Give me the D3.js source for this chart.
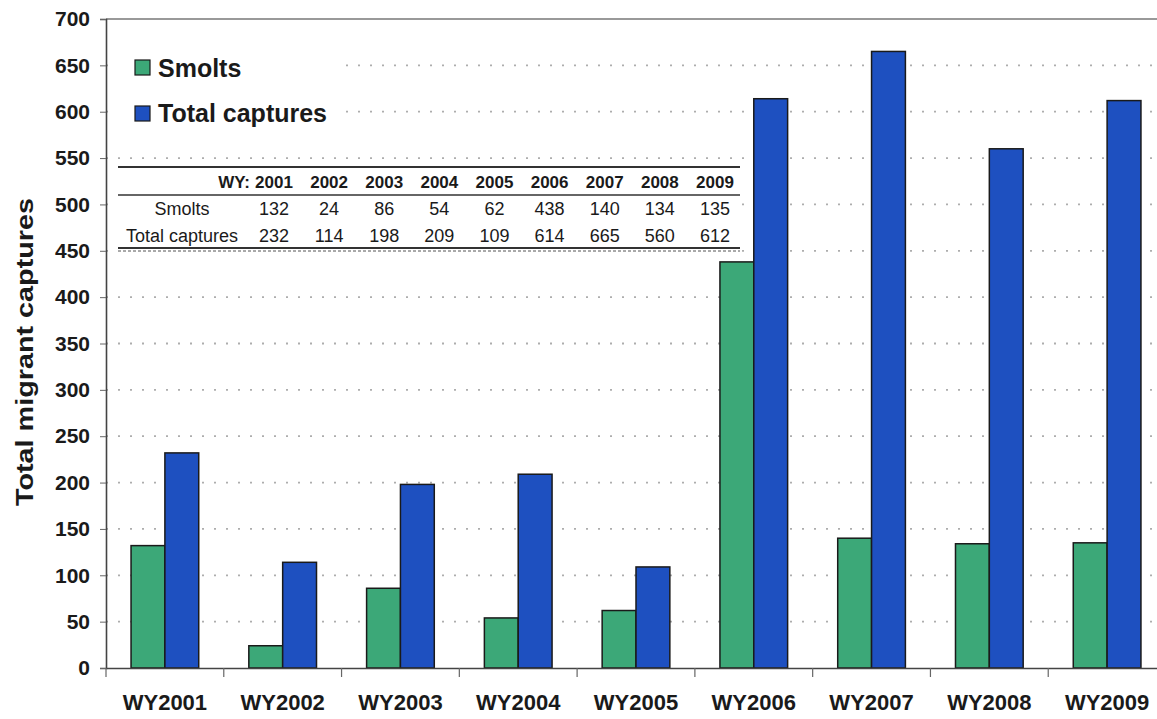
<!DOCTYPE html>
<html>
<head>
<meta charset="utf-8">
<script src="https://cdn.jsdelivr.net/npm/d3@7"></script>
<style>
  body { margin: 0; background: #fff; }
  svg { display: block; }
</style>
</head>
<body>
<div id="chart"></div>
<script>
"use strict";

var years = ["2001", "2002", "2003", "2004", "2005", "2006", "2007", "2008", "2009"];
var categories = ["WY2001", "WY2002", "WY2003", "WY2004", "WY2005", "WY2006", "WY2007", "WY2008", "WY2009"];
var smolts = [132, 24, 86, 54, 62, 438, 140, 134, 135];
var totalCaptures = [232, 114, 198, 209, 109, 614, 665, 560, 612];
var seriesNames = ["Smolts", "Total captures"];
var yTicks = [0, 50, 100, 150, 200, 250, 300, 350, 400, 450, 500, 550, 600, 650, 700];

var width = 1157;
var height = 719;
var green = "#3ca878";
var blue = "#1e50c0";
var font = "Liberation Sans, Arial, sans-serif";

var svg = d3.select("#chart").append("svg")
  .attr("width", width)
  .attr("height", height);

var y = d3.scaleLinear().domain([0, 700]).range([668, 19]);
var x = d3.scaleBand().domain(categories).range([106, 1166]).paddingInner(0).paddingOuter(0);
var inner = d3.scaleBand().domain(seriesNames).range([0, x.bandwidth()]).paddingInner(0).paddingOuter(0.74);

// gridlines
svg.append("g").selectAll("line")
  .data(yTicks.filter(function(d){ return d > 0 && d < 700; }))
  .enter().append("line")
    .attr("x1", 106).attr("x2", width)
    .attr("y1", function(d){ return y(d); })
    .attr("y2", function(d){ return y(d); })
    .attr("stroke", "#adadad")
    .attr("stroke-width", 1.8)
    .attr("stroke-dasharray", "2,10");

// top border
svg.append("line")
  .attr("x1", 106).attr("x2", width)
  .attr("y1", y(700)).attr("y2", y(700))
  .attr("stroke", "#777").attr("stroke-width", 1.5);

// bars
var groups = svg.append("g").selectAll("g")
  .data(categories)
  .enter().append("g")
    .attr("transform", function(d){ return "translate(" + x(d) + ",0)"; });

groups.selectAll("rect")
  .data(function(d, i){ return [
    {name: seriesNames[0], value: smolts[i], color: green},
    {name: seriesNames[1], value: totalCaptures[i], color: blue}
  ]; })
  .enter().append("rect")
    .attr("x", function(d){ return inner(d.name); })
    .attr("width", inner.bandwidth())
    .attr("y", function(d){ return y(d.value); })
    .attr("height", function(d){ return y(0) - y(d.value); })
    .attr("fill", function(d){ return d.color; })
    .attr("stroke", "#1a1a1a")
    .attr("stroke-width", 1.5);

// y axis
var yAxis = svg.append("g")
  .attr("transform", "translate(106,0)")
  .call(d3.axisLeft(y).tickValues(yTicks).tickSize(6).tickPadding(10));
yAxis.select(".domain").attr("stroke", "#444").attr("stroke-width", 1.6);
yAxis.selectAll(".tick line").attr("stroke", "#666");
yAxis.selectAll("text")
  .attr("font-family", font)
  .attr("font-size", "21px")
  .attr("font-weight", "bold")
  .attr("fill", "#1a1a1a");

// x axis
var xAxis = svg.append("g")
  .attr("transform", "translate(0,668)")
  .call(d3.axisBottom(x).tickSize(0).tickPadding(26));
xAxis.select(".domain").attr("stroke", "#444").attr("stroke-width", 1.6);
xAxis.selectAll("text")
  .attr("font-family", font)
  .attr("font-size", "22px")
  .attr("font-weight", "bold")
  .attr("fill", "#1a1a1a");
svg.append("g").selectAll("line")
  .data(categories)
  .enter().append("line")
    .attr("x1", function(d){ return x(d); })
    .attr("x2", function(d){ return x(d); })
    .attr("y1", 668).attr("y2", 677)
    .attr("stroke", "#666").attr("stroke-width", 1.2);

// y title
svg.append("text")
  .attr("transform", "translate(33,352) rotate(-90)")
  .attr("text-anchor", "middle")
  .attr("font-family", font)
  .attr("font-size", "24px")
  .attr("font-weight", "bold")
  .attr("fill", "#1a1a1a")
  .attr("textLength", 308)
  .attr("lengthAdjust", "spacingAndGlyphs")
  .text("Total migrant captures");

// legend
var legend = svg.append("g");
legend.append("rect").attr("x", 116).attr("y", 40).attr("width", 228).attr("height", 95).attr("fill", "#fff");
[green, blue].forEach(function(c, i){
  legend.append("rect")
    .attr("x", 135).attr("y", 60 + i * 46)
    .attr("width", 15).attr("height", 15)
    .attr("fill", c).attr("stroke", "#1a1a1a").attr("stroke-width", 1.2);
  legend.append("text")
    .attr("x", 158).attr("y", 77 + i * 45)
    .attr("font-family", font)
    .attr("font-size", "25px")
    .attr("font-weight", "bold")
    .attr("fill", "#1a1a1a")
    .text(seriesNames[i]);
});

// data table
var table = svg.append("g");
var colX = d3.scalePoint().domain(years).range([274, 715]);
table.append("rect").attr("x", 117).attr("y", 162).attr("width", 624).attr("height", 91).attr("fill", "#fff");
table.append("line").attr("x1", 118).attr("x2", 740).attr("y1", 167).attr("y2", 167)
  .attr("stroke", "#333").attr("stroke-width", 2);
table.append("line").attr("x1", 118).attr("x2", 740).attr("y1", 195).attr("y2", 195)
  .attr("stroke", "#333").attr("stroke-width", 1.6);
table.append("line").attr("x1", 118).attr("x2", 740).attr("y1", 248).attr("y2", 248)
  .attr("stroke", "#333").attr("stroke-width", 2);
table.append("line").attr("x1", 118).attr("x2", 740).attr("y1", 251).attr("y2", 251)
  .attr("stroke", "#555").attr("stroke-width", 1).attr("stroke-dasharray", "3,2");

table.append("text")
  .attr("x", 250).attr("y", 188)
  .attr("text-anchor", "end")
  .attr("font-family", font).attr("font-size", "17px").attr("font-weight", "bold").attr("fill", "#1a1a1a")
  .text("WY:");
table.selectAll("text.yr").data(years).enter().append("text")
  .attr("class", "yr")
  .attr("x", function(d){ return colX(d); }).attr("y", 188)
  .attr("text-anchor", "middle")
  .attr("font-family", font).attr("font-size", "17px").attr("font-weight", "bold").attr("fill", "#1a1a1a")
  .text(function(d){ return d; });

var rows = [smolts, totalCaptures];
rows.forEach(function(vals, r){
  var ry = 215 + r * 27;
  table.append("text")
    .attr("x", 182).attr("y", ry)
    .attr("text-anchor", "middle")
    .attr("font-family", font).attr("font-size", "18px").attr("fill", "#1a1a1a")
    .text(seriesNames[r]);
  table.selectAll("text.r" + r).data(vals).enter().append("text")
    .attr("class", "r" + r)
    .attr("x", function(d, i){ return colX(years[i]); }).attr("y", ry)
    .attr("text-anchor", "middle")
    .attr("font-family", font).attr("font-size", "18px").attr("fill", "#1a1a1a")
    .text(function(d){ return d; });
});
</script>
</body>
</html>
